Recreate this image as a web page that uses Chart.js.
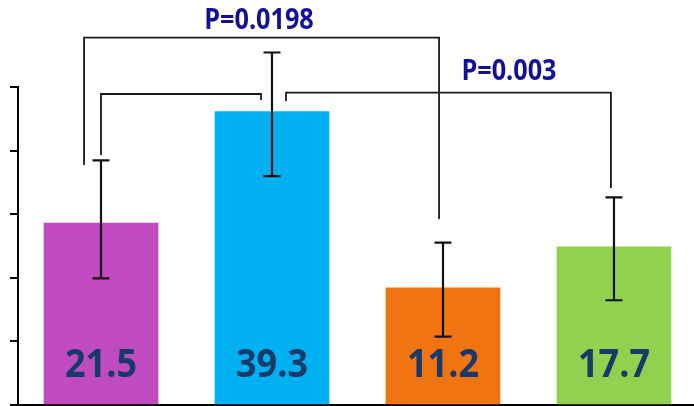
<!DOCTYPE html>
<html>
<head>
<meta charset="utf-8">
<script src="https://cdn.jsdelivr.net/npm/chart.js@4.4.1/dist/chart.umd.min.js"></script>
<style>
  html, body { margin: 0; padding: 0; background: #fff; overflow: hidden; }
  #wrap { position: relative; width: 694px; height: 406px; }
</style>
</head>
<body>
<div id="wrap"><canvas id="c"></canvas></div>
<script>
// Group means with their error ranges (data units)
const categories = ['Group 1', 'Group 2', 'Group 3', 'Group 4'];
const means   = [21.5, 39.3, 11.2, 17.7];
const errLow  = [12.7, 29.0, 3.4, 9.2];
const errHigh = [31.5, 48.7, 18.4, 25.6];
const barColors = ['#C04BC0', '#00B0F0', '#F07512', '#92D050'];

// Unlabelled tick positions on the value axis
const yTicks = [-7.5, 2.64, 12.78, 22.92, 33.06, 43.2];

// Significance brackets as polylines in data units: [categoryPosition, value]
const bracketLines = [
  [[-0.099, 30.76], [-0.099, 51.06], [1.977, 51.06], [1.977, 22.15]],
  [[0.0, 32.36], [0.0, 42.08], [0.936, 42.08], [0.936, 41.13]],
  [[1.082, 40.97], [1.082, 42.29], [2.982, 42.29], [2.982, 27.10]]
];
const pLabels = ['P=0.0198', 'P=0.003'];
const pLabelX = [0.924, 2.386];
const pLabelY = [51.06, 42.29];

const errorBarsPlugin = {
  id: 'errorBarsAndBrackets',
  afterDatasetsDraw(chart) {
    const { ctx, scales: { x, y }, chartArea } = chart;
    ctx.save();

    // error bars
    ctx.strokeStyle = '#111';
    ctx.lineWidth = 2.2;
    means.forEach((m, i) => {
      const px = x.getPixelForValue(i);
      const top = y.getPixelForValue(errHigh[i]);
      const bot = y.getPixelForValue(errLow[i]);
      ctx.beginPath();
      ctx.moveTo(px, top); ctx.lineTo(px, bot);
      ctx.moveTo(px - 8.5, top); ctx.lineTo(px + 8.5, top);
      ctx.moveTo(px - 8.5, bot); ctx.lineTo(px + 8.5, bot);
      ctx.stroke();
    });

    // brackets
    ctx.strokeStyle = '#1a1a1a';
    ctx.lineWidth = 1.8;
    ctx.lineJoin = 'miter';
    bracketLines.forEach(line => {
      ctx.beginPath();
      line.forEach(([cx, cy], k) => {
        const px = x.getPixelForValue(cx), py = y.getPixelForValue(cy);
        if (k === 0) ctx.moveTo(px, py); else ctx.lineTo(px, py);
      });
      ctx.stroke();
    });

    // p-value labels
    ctx.fillStyle = '#10109A';
    ctx.font = 'bold 28px "Open Sans", "Liberation Sans", sans-serif';
    ctx.textAlign = 'center';
    ctx.textBaseline = 'alphabetic';
    pLabels.forEach((t, i) => {
      const px = x.getPixelForValue(pLabelX[i]);
      const py = y.getPixelForValue(pLabelY[i]) - (i === 0 ? 9 : 13);
      ctx.save();
      ctx.translate(px, py);
      ctx.scale(0.9, 1);
      ctx.fillText(t, 0, 0);
      ctx.restore();
    });

    // value labels inside the bars
    ctx.fillStyle = '#173A6A';
    ctx.font = 'bold 40px "Open Sans", "Liberation Sans", sans-serif';
    means.forEach((m, i) => {
      const px = x.getPixelForValue(i);
      const py = chartArea.bottom - 28;
      ctx.save();
      ctx.translate(px, py);
      ctx.scale(0.9, 1);
      ctx.fillText(m.toFixed(1), 0, 0);
      ctx.restore();
    });

    ctx.restore();
  }
};

new Chart(document.getElementById('c'), {
  type: 'bar',
  data: {
    datasets: [{
      label: 'Mean',
      data: means.map((v, i) => ({ x: i, y: v })),
      backgroundColor: barColors,
      borderWidth: 0,
      base: -7.5,
      barThickness: 114
    }]
  },
  options: {
    responsive: true,
    maintainAspectRatio: false,
    animation: false,
    layout: { padding: { left: 10, right: 0, top: 87, bottom: 1 } },
    plugins: { legend: { display: false }, tooltip: { enabled: false } },
    scales: {
      x: {
        type: 'linear',
        min: -0.4854,
        max: 3.468,
        offset: false,
        ticks: { display: false },
        grid: { display: false, drawTicks: false },
        border: { display: true, color: '#000', width: 2 }
      },
      y: {
        min: -7.5,
        max: 43.2,
        afterBuildTicks: s => { s.ticks = yTicks.map(v => ({ value: v })); },
        ticks: { display: false },
        grid: { drawOnChartArea: false, drawTicks: true, tickLength: 8, color: '#000', lineWidth: 2 },
        border: { display: true, color: '#000', width: 2 }
      }
    }
  },
  plugins: [errorBarsPlugin]
});
</script>
</body>
</html>
